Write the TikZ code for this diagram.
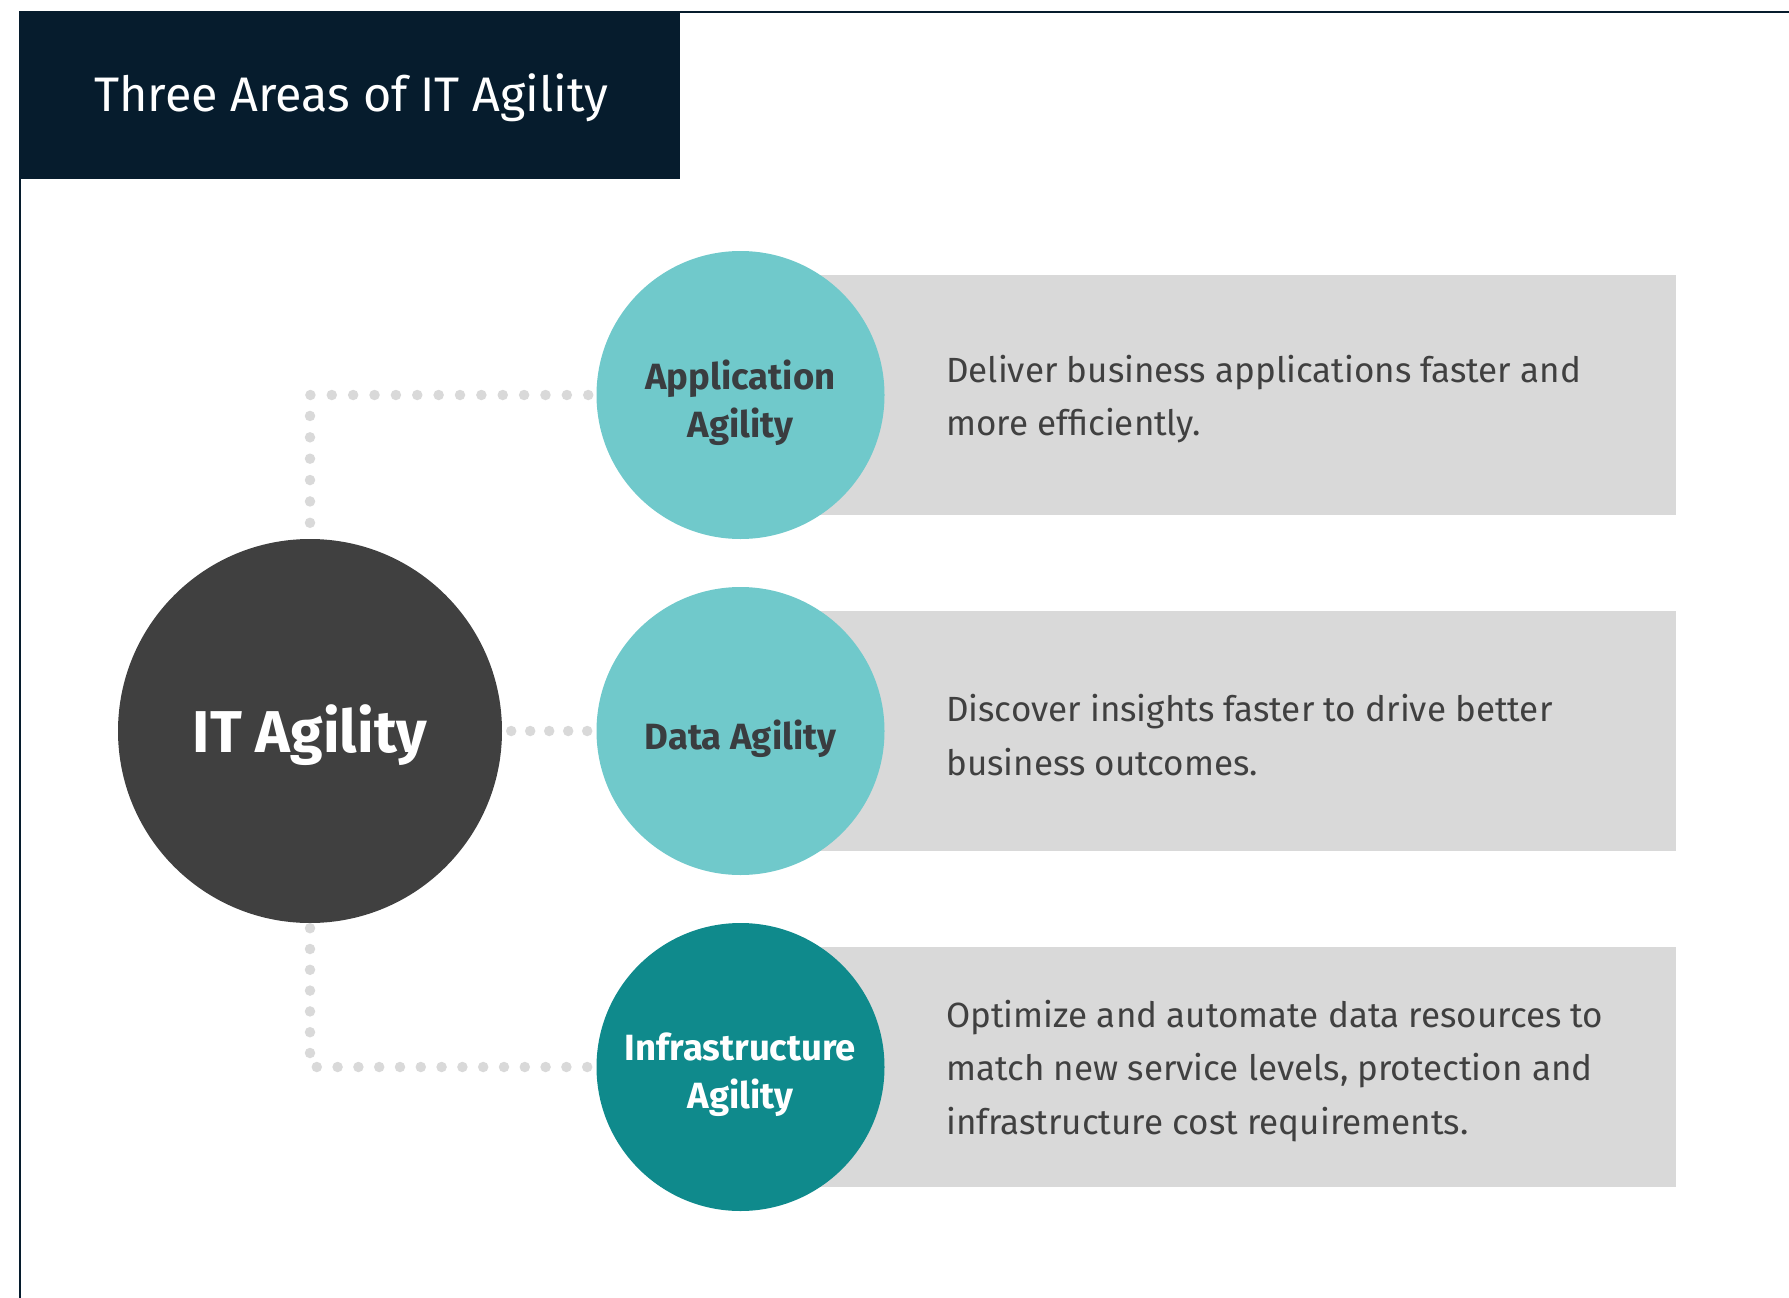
\documentclass[tikz,border=0pt]{standalone}
\usepackage{fontspec}
\setmainfont{Fira Sans}
\definecolor{navy}{HTML}{061C2D}
\definecolor{lightteal}{HTML}{70C9CB}
\definecolor{darkteal}{HTML}{0F8A8C}
\definecolor{boxgray}{HTML}{D9D9D9}
\definecolor{charcoal}{HTML}{404040}
\definecolor{labelgray}{HTML}{3A3D40}
\tikzset{
  area/.style={circle, minimum size=288pt, inner sep=0pt},
  arealabel/.style={align=center, inner sep=0pt, yshift=-8pt, font=\bfseries\fontsize{36.5}{48}\selectfont},
  descbox/.style={fill=boxgray, minimum width=936pt, minimum height=240pt, anchor=west, inner sep=0pt},
  desc/.style={anchor=west, align=left, inner sep=0pt, text=charcoal, font=\fontsize{35}{53.6}\selectfont},
  dotline/.style={draw=boxgray, line width=10.5pt, line cap=round, dash pattern=on 0pt off #1},
}

\begin{document}
\begin{tikzpicture}[x=1pt,y=-1pt]
\useasboundingbox (0,0) rectangle (1789,1298);
% Frame and title
\draw[navy, line width=2.5pt] (1789,12) -| (20,1298);
\fill[navy] (19,11) rectangle (680,179);
\node[anchor=west, inner sep=0pt, text=white, font=\fontsize{48.5}{54}\selectfont] (title) at (94,98) {Three Areas of IT Agility};
% Three areas: boxes, circles and descriptions
\foreach \i/\y/\col/\tc/\lab/\txt in {
    1/395/lightteal/labelgray/{Application\\Agility}/{Deliver business applications faster and\\more efficiently.},
    2/731/lightteal/labelgray/{Data Agility}/{Discover insights faster to drive better\\business outcomes.},
    3/1067/darkteal/white/{Infrastructure\\Agility}/{Optimize and automate data resources to\\match new service levels, protection and\\infrastructure cost requirements.}} {
    \node[descbox] (b\i) at (740,\y) {};
    \node[area, fill=\col, label={[arealabel, text=\tc]center:\lab}] (a\i) at (740.5,\y) {};
    \node[desc] (d\i) at (946,\y+4) {\txt};
}
% Center circle
\node[circle, fill=charcoal, minimum size=384pt, inner sep=0pt,
  label={[inner sep=0pt, yshift=-4pt, text=white, font=\bfseries\fontsize{59}{62}\selectfont]center:IT Agility}] (it) at (310,731) {};
% Dotted connectors
\draw[dotline=21.37pt, shorten <=16pt, shorten >=8pt] (it.north) |- (a1.west);
\draw[dotline=19pt, shorten <=9pt, shorten >=9pt] (it.east) -- (a2.west);
\draw[dotline=20.8pt, shorten <=5pt, shorten >=8pt] (it.south) |- (a3.west);
\end{tikzpicture}
\end{document}
